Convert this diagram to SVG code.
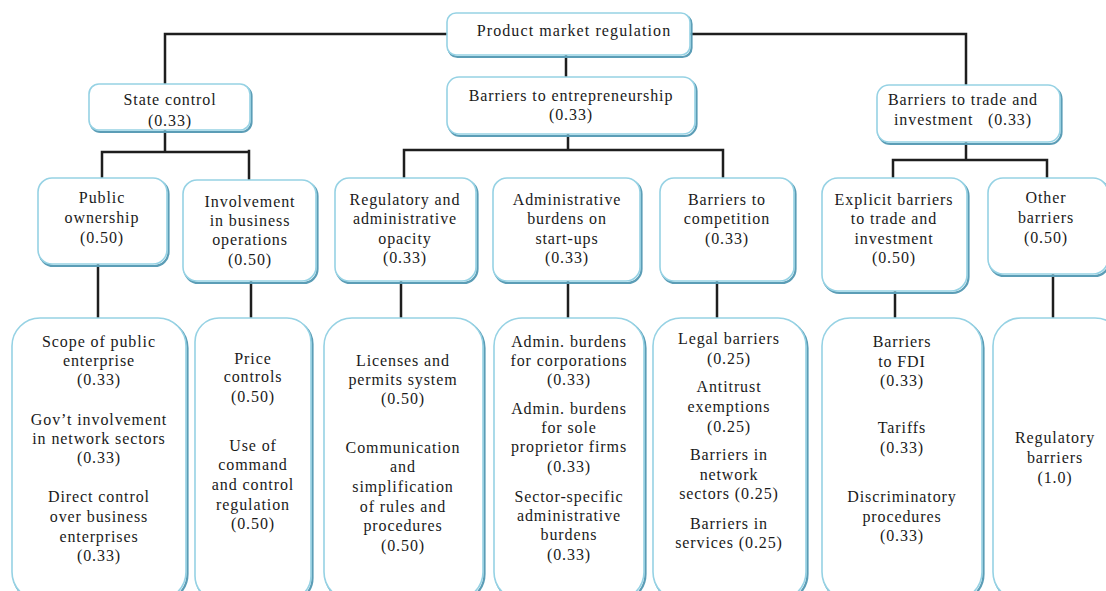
<svg xmlns="http://www.w3.org/2000/svg" width="1106" height="591" viewBox="0 0 1106 591">
  <defs>
    <style>
      .shadow { fill: none; stroke: #5b9db6; stroke-width: 2.2; }
      .box { fill: #ffffff; stroke: #96d2e4; stroke-width: 1.6; }
      .link { fill: none; stroke: #1e1e1e; stroke-width: 2.5; stroke-linecap: square; }
      text { font-family: "Liberation Serif", "Times New Roman", serif; font-size: 16px; fill: #1a1a1a; text-anchor: middle; letter-spacing: 0.9px; }
      .top { font-size: 16px; letter-spacing: 1.1px; }
    </style>
  </defs>
  <rect width="1106" height="591" fill="#ffffff"/>

  <!-- connectors -->
  <g id="connectors">
    <path class="link" d="M447 34 H165 V84"/>
    <path class="link" d="M691 34 H966 V85"/>
    <path class="link" d="M566 56 V77"/>
    <path class="link" d="M165 130 V151 M102 152 H249 M102 152 V178 M249 151 V180"/>
    <path class="link" d="M568 135 V150 M404 150 H723 M404 150 V178 M723 150 V178"/>
    <path class="link" d="M966 143 V160 M893 160 H1047 M893 160 V178 M1047 160 V178"/>
    <path class="link" d="M98 265 V318"/>
    <path class="link" d="M251 282 V318"/>
    <path class="link" d="M401 282 V318"/>
    <path class="link" d="M568 282 V318"/>
    <path class="link" d="M717 282 V318"/>
    <path class="link" d="M895 292 V318"/>
    <path class="link" d="M1053 275 V318"/>
  </g>

  <!-- level 0 -->
  <g id="pmr">
    <rect class="shadow" x="448.5" y="15" width="243" height="42" rx="9"/>
    <rect class="box" x="447" y="13" width="243" height="42" rx="9"/>
    <text class="top" x="574" y="36">Product market regulation</text>
  </g>

  <!-- level 1 -->
  <g id="state-control">
    <rect class="shadow" x="90.5" y="86" width="161" height="46" rx="10"/>
    <rect class="box" x="89" y="84" width="161" height="46" rx="10"/>
    <text x="170" y="105">State control</text>
    <text x="170" y="126">(0.33)</text>
  </g>
  <g id="entrepreneurship">
    <rect class="shadow" x="448.5" y="79" width="248" height="57" rx="12"/>
    <rect class="box" x="447" y="77" width="248" height="57" rx="12"/>
    <text x="571" y="101">Barriers to entrepreneurship</text>
    <text x="571" y="120">(0.33)</text>
  </g>
  <g id="trade">
    <rect class="shadow" x="878.5" y="87" width="183" height="57" rx="12"/>
    <rect class="box" x="877" y="85" width="183" height="57" rx="12"/>
    <text x="963" y="105">Barriers to trade and</text>
    <text x="963" y="125" xml:space="preserve">investment   (0.33)</text>
  </g>

  <!-- level 2 -->
  <g id="public-ownership">
    <rect class="shadow" x="39.5" y="180" width="129" height="86" rx="14"/>
    <rect class="box" x="38" y="178" width="129" height="86" rx="14"/>
    <text x="102" y="203">Public</text>
    <text x="102" y="223">ownership</text>
    <text x="102" y="243">(0.50)</text>
  </g>
  <g id="involvement">
    <rect class="shadow" x="184.5" y="182" width="133" height="101" rx="14"/>
    <rect class="box" x="183" y="180" width="133" height="101" rx="14"/>
    <text x="250" y="207">Involvement</text>
    <text x="250" y="226">in business</text>
    <text x="250" y="245">operations</text>
    <text x="250" y="265">(0.50)</text>
  </g>
  <g id="opacity">
    <rect class="shadow" x="336.5" y="180" width="141" height="103" rx="14"/>
    <rect class="box" x="335" y="178" width="141" height="103" rx="14"/>
    <text x="405" y="205">Regulatory and</text>
    <text x="405" y="224">administrative</text>
    <text x="405" y="244">opacity</text>
    <text x="405" y="263">(0.33)</text>
  </g>
  <g id="startups">
    <rect class="shadow" x="494.5" y="180" width="147" height="103" rx="14"/>
    <rect class="box" x="493" y="178" width="147" height="103" rx="14"/>
    <text x="567" y="205">Administrative</text>
    <text x="567" y="224">burdens on</text>
    <text x="567" y="244">start-ups</text>
    <text x="567" y="263">(0.33)</text>
  </g>
  <g id="competition">
    <rect class="shadow" x="661.5" y="180" width="134" height="103" rx="14"/>
    <rect class="box" x="660" y="178" width="134" height="103" rx="14"/>
    <text x="727" y="205">Barriers to</text>
    <text x="727" y="224">competition</text>
    <text x="727" y="244">(0.33)</text>
  </g>
  <g id="explicit">
    <rect class="shadow" x="823.5" y="180" width="145" height="113" rx="16"/>
    <rect class="box" x="822" y="178" width="145" height="113" rx="16"/>
    <text x="894" y="205">Explicit barriers</text>
    <text x="894" y="224">to trade and</text>
    <text x="894" y="244">investment</text>
    <text x="894" y="263">(0.50)</text>
  </g>
  <g id="other">
    <rect class="shadow" x="989.5" y="180" width="120" height="96" rx="15"/>
    <rect class="box" x="988" y="178" width="120" height="96" rx="15"/>
    <text x="1046" y="203">Other</text>
    <text x="1046" y="223">barriers</text>
    <text x="1046" y="243">(0.50)</text>
  </g>

  <!-- level 3 -->
  <g id="public-items">
    <rect class="shadow" x="13.5" y="320" width="174" height="282" rx="28"/>
    <rect class="box" x="12" y="318" width="174" height="282" rx="28"/>
    <text x="99" y="347">Scope of public</text>
    <text x="99" y="366">enterprise</text>
    <text x="99" y="385">(0.33)</text>
    <text x="99" y="425">Gov’t involvement</text>
    <text x="99" y="444">in network sectors</text>
    <text x="99" y="463">(0.33)</text>
    <text x="99" y="502">Direct control</text>
    <text x="99" y="522">over business</text>
    <text x="99" y="542">enterprises</text>
    <text x="99" y="561">(0.33)</text>
  </g>
  <g id="involvement-items">
    <rect class="shadow" x="196.5" y="320" width="116" height="282" rx="24"/>
    <rect class="box" x="195" y="318" width="116" height="282" rx="24"/>
    <text x="253" y="364">Price</text>
    <text x="253" y="382">controls</text>
    <text x="253" y="402">(0.50)</text>
    <text x="253" y="451">Use of</text>
    <text x="253" y="470">command</text>
    <text x="253" y="490">and control</text>
    <text x="253" y="510">regulation</text>
    <text x="253" y="529">(0.50)</text>
  </g>
  <g id="opacity-items">
    <rect class="shadow" x="325.5" y="320" width="159" height="282" rx="28"/>
    <rect class="box" x="324" y="318" width="159" height="282" rx="28"/>
    <text x="403" y="366">Licenses and</text>
    <text x="403" y="385">permits system</text>
    <text x="403" y="404">(0.50)</text>
    <text x="403" y="453">Communication</text>
    <text x="403" y="472">and</text>
    <text x="403" y="492">simplification</text>
    <text x="403" y="512">of rules and</text>
    <text x="403" y="531">procedures</text>
    <text x="403" y="551">(0.50)</text>
  </g>
  <g id="startup-items">
    <rect class="shadow" x="495.5" y="320" width="150" height="282" rx="28"/>
    <rect class="box" x="494" y="318" width="150" height="282" rx="28"/>
    <text x="569" y="347">Admin. burdens</text>
    <text x="569" y="366">for corporations</text>
    <text x="569" y="385">(0.33)</text>
    <text x="569" y="414">Admin. burdens</text>
    <text x="569" y="433">for sole</text>
    <text x="569" y="452">proprietor firms</text>
    <text x="569" y="472">(0.33)</text>
    <text x="569" y="502">Sector-specific</text>
    <text x="569" y="521">administrative</text>
    <text x="569" y="540">burdens</text>
    <text x="569" y="560">(0.33)</text>
  </g>
  <g id="competition-items">
    <rect class="shadow" x="654.5" y="320" width="153" height="282" rx="28"/>
    <rect class="box" x="653" y="318" width="153" height="282" rx="28"/>
    <text x="729" y="344">Legal barriers</text>
    <text x="729" y="364">(0.25)</text>
    <text x="729" y="392">Antitrust</text>
    <text x="729" y="412">exemptions</text>
    <text x="729" y="432">(0.25)</text>
    <text x="729" y="460">Barriers in</text>
    <text x="729" y="480">network</text>
    <text x="729" y="499">sectors (0.25)</text>
    <text x="729" y="529">Barriers in</text>
    <text x="729" y="548">services (0.25)</text>
  </g>
  <g id="explicit-items">
    <rect class="shadow" x="823.5" y="320" width="160" height="282" rx="28"/>
    <rect class="box" x="822" y="318" width="160" height="282" rx="28"/>
    <text x="902" y="347">Barriers</text>
    <text x="902" y="367">to FDI</text>
    <text x="902" y="386">(0.33)</text>
    <text x="902" y="433">Tariffs</text>
    <text x="902" y="453">(0.33)</text>
    <text x="902" y="502">Discriminatory</text>
    <text x="902" y="522">procedures</text>
    <text x="902" y="541">(0.33)</text>
  </g>
  <g id="other-items">
    <rect class="shadow" x="994.5" y="320" width="130" height="282" rx="28"/>
    <rect class="box" x="993" y="318" width="130" height="282" rx="28"/>
    <text x="1055" y="443">Regulatory</text>
    <text x="1055" y="463">barriers</text>
    <text x="1055" y="483">(1.0)</text>
  </g>
</svg>
